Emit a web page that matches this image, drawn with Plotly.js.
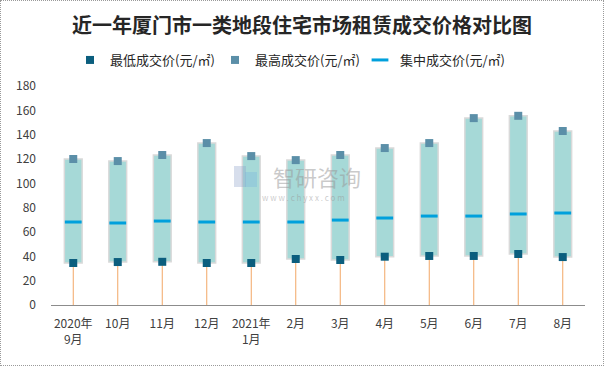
<!DOCTYPE html>
<html><head><meta charset="utf-8">
<script src="https://cdn.plot.ly/plotly-3.0.1.min.js"></script>
<style>
html,body{margin:0;padding:0;background:#fff;}
#wrap{position:absolute;left:0;top:0;width:602px;height:364px;border:1px dotted #9a9a9a;}
#chart{position:absolute;left:-1px;top:-1px;width:604px;height:366px;}
</style>
</head><body>
<div id="wrap"><div id="chart"></div></div>
<script>
const categories = ["2020年<br>9月","10月","11月","12月","2021年<br>1月","2月","3月","4月","5月","6月","7月","8月"];
const lowPrice  = [34.5, 35.3, 35.5, 34.5, 34.5, 37.8, 37.0, 39.7, 40.3, 40.3, 41.9, 39.4];
const highPrice = [120.0, 118.3, 123.3, 133.1, 122.4, 119.1, 123.3, 129.0, 133.1, 153.6, 155.5, 143.0];
const midPrice  = [68.2, 67.4, 69.0, 68.2, 68.2, 68.2, 69.8, 71.5, 73.1, 73.1, 74.8, 75.6];
const names = ["最低成交价(元/㎡)","最高成交价(元/㎡)","集中成交价(元/㎡)"];

const stemX = [], stemY = [];
categories.forEach((c,i)=>{ stemX.push(c,c,null); stemY.push(0,lowPrice[i],null); });

const font = "'Noto Sans CJK SC', 'Microsoft YaHei', sans-serif";
const traces = [
  {type:'scatter', mode:'lines', x:stemX, y:stemY, line:{color:'#F2A766', width:1}, showlegend:false, hoverinfo:'skip'},
  {type:'bar', x:categories, base:lowPrice, y:highPrice.map((h,i)=>h-lowPrice[i]), width:0.4,
   marker:{color:'#A6D9D7', line:{color:'#D9D9D9', width:1.5}}, showlegend:false},
  {type:'scatter', mode:'markers', name:names[0], x:categories, y:lowPrice,
   marker:{symbol:'square', size:8, color:'#0B5E7E'}},
  {type:'scatter', mode:'markers', name:names[1], x:categories, y:highPrice,
   marker:{symbol:'square', size:8, color:'#5B8FA8'}},
  {type:'scatter', mode:'markers', name:names[2], x:categories, y:midPrice,
   marker:{symbol:'line-ew', size:12, line:{color:'#00A0DC', width:3}}}
];

const layout = {
  width:604, height:366,
  margin:{l:51, r:19, t:86, b:61},
  paper_bgcolor:'rgba(0,0,0,0)', plot_bgcolor:'rgba(0,0,0,0)',
  font:{family:font, size:12, color:'#404040'},
  title:{text:'<b>近一年厦门市一类地段住宅市场租赁成交价格对比图</b>', x:0.5, xanchor:'center', y:1-26/366, yanchor:'middle',
    font:{family:font, size:20, color:'#262626'}, automargin:false},
  showlegend:true,
  legend:{orientation:'h', xref:'container', yref:'container', x:70/604, xanchor:'left', y:1-60/366, yanchor:'middle',
    entrywidth:100, entrywidthmode:'pixels', font:{family:font, size:13, color:'#262626'}, itemclick:false},
  xaxis:{type:'category', range:[-0.5, 11.5], automargin:false, showline:true, linecolor:'#8C8C8C', linewidth:1, showgrid:false, zeroline:false, ticks:'',
    tickfont:{size:12, color:'#404040'}, ticklabelstandoff:8},
  yaxis:{range:[0,180], automargin:false, dtick:20, tick0:0, showgrid:false, zeroline:false, showline:false, ticks:'',
    tickfont:{size:12, color:'#404040'}, ticklabelstandoff:14},
  shapes:[
    {type:'rect', xref:'paper', yref:'paper', x0:(234-51)/534, x1:(246-51)/534, y0:(305-187)/219, y1:(305-166)/219,
     line:{width:0}, fillcolor:'rgba(140,160,200,0.35)'},
    {type:'rect', xref:'paper', yref:'paper', x0:(245-51)/534, x1:(257-51)/534, y0:(305-187)/219, y1:(305-172)/219,
     line:{width:0}, fillcolor:'rgba(120,180,220,0.35)'}
  ],
  annotations:[
    {xref:'paper', yref:'paper', x:(317-51)/534, y:(305-176)/219, text:'智研咨询', showarrow:false,
     font:{family:font, size:22, color:'rgba(150,150,150,0.5)'}},
    {xref:'paper', yref:'paper', x:(303-51)/534, y:(305-197)/219, text:'w w w . c h y x x . c o m', showarrow:false,
     font:{family:font, size:8, color:'rgba(150,150,150,0.5)'}}
  ]
};
Plotly.newPlot('chart', traces, layout, {displayModeBar:false, staticPlot:true});
</script>
</body></html>
